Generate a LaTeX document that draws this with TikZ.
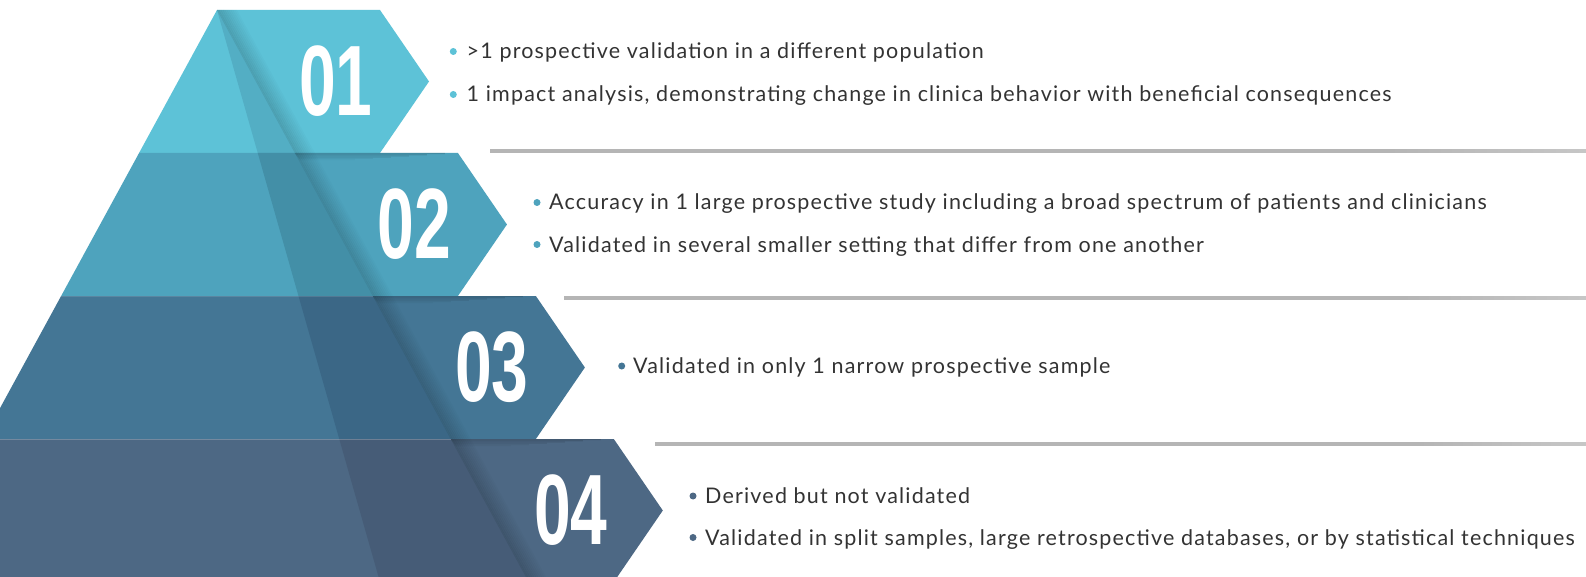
\documentclass[tikz,border=0pt]{standalone}
\usepackage{fontspec}
\usepackage{graphicx}
\setmainfont{Lato}
\newfontfamily\bodyfont{Lato}[LetterSpace=5.5]
\newfontfamily\numfont{Liberation Sans}

% tier colours: face and darker folded stripe
\definecolor{tieroneface}{HTML}{5DC2D7}
\definecolor{tieronefold}{HTML}{53AEC4}
\definecolor{tiertwoface}{HTML}{4EA3BD}
\definecolor{tiertwofold}{HTML}{438FA7}
\definecolor{tierthreeface}{HTML}{447695}
\definecolor{tierthreefold}{HTML}{3B6786}
\definecolor{tierfourface}{HTML}{4D6884}
\definecolor{tierfourfold}{HTML}{465C77}
\definecolor{textgray}{HTML}{333333}
\definecolor{sepgray}{HTML}{B5B5B5}
\definecolor{sepend}{HTML}{F6F6F6}

% grey rule that stays solid, then fades out towards the right
\pgfdeclarehorizontalshading{rulefade}{100bp}{color(0bp)=(sepgray); color(66bp)=(sepgray); color(100bp)=(sepend)}

% one pyramid band: #1 top y, #2 bottom y, #3 face colour, #4 stripe colour
\newcommand{\pyrtier}[4]{%
  \pgfmathsetmacro{\Lt}{217-0.545*(#1-10)}%
  \pgfmathsetmacro{\Lb}{217-0.545*(#2-10)}%
  \pgfmathsetmacro{\St}{217+0.285*(#1-10)}%
  \pgfmathsetmacro{\Sb}{217+0.285*(#2-10)}%
  \pgfmathsetmacro{\Ft}{217+0.545*(#1-10)}%
  \pgfmathsetmacro{\Fb}{217+0.545*(#2-10)}%
  \pgfmathsetmacro{\Ar}{\Ft+163}%
  \pgfmathsetmacro{\Tp}{\Ar+49}%
  \pgfmathsetmacro{\Md}{(#1+#2)/2}%
  \fill[#3] (\Lt,#1) -- (\Ar,#1) -- (\Tp,\Md) -- (\Ar,#2) -- (\Lb,#2) -- cycle;
  \fill[#4] (\St,#1) -- (\Ft,#1) -- (\Fb,#2) -- (\Sb,#2) -- cycle;
  \begin{scope}
    \clip (\Lt,#1) -- (\Ar,#1) -- (\Tp,\Md) -- (\Ar,#2) -- (\Lb,#2) -- cycle;
    % soft shadow to the right of the fold
    \foreach \k [evaluate=\k as \op using 0.16*(1-\k/10)] in {0,...,9}
      \fill[black, fill opacity=\op]
        ({\Ft+2*\k},#1) -- ({\Ft+2*\k+2},#1) -- ({\Fb+2*\k+2},#2) -- ({\Fb+2*\k},#2) -- cycle;
  \end{scope}
}

% shadow cast by the band above onto the right part of a band
\newcommand{\topshadow}[1]{%
  \pgfmathsetmacro{\Ft}{217+0.545*(#1-10)}%
  \foreach \j [evaluate=\j as \op using 0.14*(1-\j/6)] in {0,...,5}
    \fill[black, fill opacity=\op]
      ({\Ft+0.8*\j},{#1+1.2*\j}) -- ({\Ft+150-18*\j},{#1+1.2*\j}) -- ({\Ft+150-18*\j},{#1+1.2*\j+1.2}) -- ({\Ft+0.8*\j+0.7},{#1+1.2*\j+1.2}) -- cycle;
}

% faded grey rule between the text blocks: #1 y, #2 start x
\newcommand{\seprule}[2]{%
  \shade[shading=rulefade] (#2,#1-1.5) rectangle (1586,#1+1.5);
}

\begin{document}
\begin{tikzpicture}[x=1pt, y=-1pt,
  txt/.style={anchor=base west, inner sep=0pt, text=textgray,
              font=\bodyfont\fontsize{21.5}{21.5}\selectfont},
  dot/.style={circle, inner sep=0pt, minimum size=7pt},
  num/.style={inner sep=0pt, text=white,
              font=\numfont\bfseries\fontsize{100}{100}\selectfont}]

\useasboundingbox (0,0) rectangle (1586,577);
\fill[white] (0,0) rectangle (1586,577);

\begin{scope}
  \clip (0,0) rectangle (1586,577);
  \pyrtier{10}{153}{tieroneface}{tieronefold}
  \pyrtier{153}{296}{tiertwoface}{tiertwofold}
  \topshadow{153}
  \pyrtier{296}{439}{tierthreeface}{tierthreefold}
  \topshadow{296}
  \pyrtier{439}{582}{tierfourface}{tierfourfold}
  \topshadow{439}
  % light edge along the top of the lowest bands
  \draw[white, opacity=0.22, line width=1pt] (0,439.5) -- (451,439.5);
  \draw[white, opacity=0.12, line width=1pt] (61,296.5) -- (373,296.5);
\end{scope}

% level numbers
\node[num] (n1) at (336,81.5)  {\scalebox{0.66}[1]{01}};
\node[num] (n2) at (414.5,224.5) {\scalebox{0.66}[1]{02}};
\node[num] (n3) at (492,367.5)   {\scalebox{0.66}[1]{03}};
\node[num] (n4) at (571,510.5)   {\scalebox{0.66}[1]{04}};

% rules
\seprule{151}{490}
\seprule{297.5}{564}
\seprule{443.5}{655}

% level 1
\node[dot, fill=tieroneface] (b1a) at (453.3,51.5) {};
\node[txt] (t1a) at (466.5,59) {>1 prospective validation in a different population};
\node[dot, fill=tieroneface] (b1b) at (453.3,94.5) {};
\node[txt] (t1b) at (466.5,102) {1 impact analysis, demonstrating change in clinica behavior with beneficial consequences};

% level 2
\node[dot, fill=tiertwoface] (b2a) at (537,202.5) {};
\node[txt] (t2a) at (549,210) {Accuracy in 1 large prospective study including a broad spectrum of patients and clinicians};
\node[dot, fill=tiertwoface] (b2b) at (537,244.5) {};
\node[txt] (t2b) at (549,252) {Validated in several smaller setting that differ from one another};

% level 3
\node[dot, fill=tierthreeface] (b3a) at (621.7,366) {};
\node[txt] (t3a) at (633,373.5) {Validated in only 1 narrow prospective sample};

% level 4
\node[dot, fill=tierfourface] (b4a) at (693,496) {};
\node[txt] (t4a) at (705,503.5) {Derived but not validated};
\node[dot, fill=tierfourface] (b4b) at (693,537.5) {};
\node[txt] (t4b) at (705,545) {Validated in split samples, large retrospective databases, or by statistical techniques};

\end{tikzpicture}
\end{document}
